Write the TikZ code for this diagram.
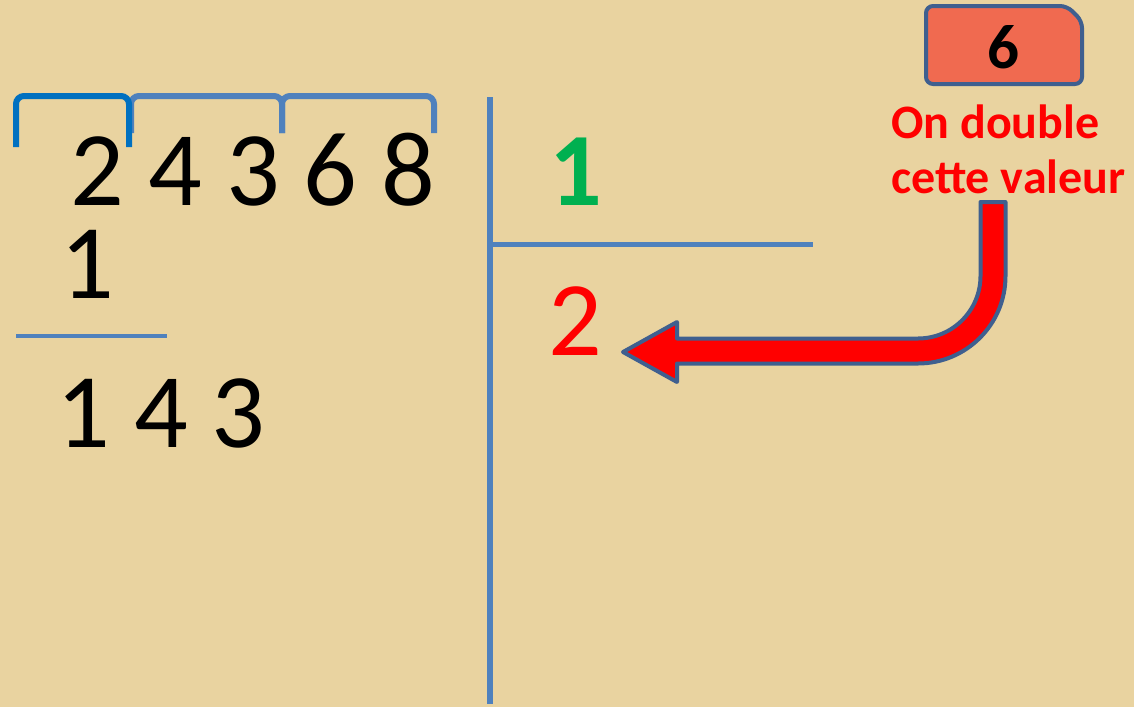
\documentclass[tikz,border=0pt]{standalone}
\usepackage{fontspec}
\setmainfont{Carlito}
\definecolor{parch}{RGB}{233,211,160}
\definecolor{bracketA}{RGB}{0,112,192}
\definecolor{bracketB}{RGB}{79,129,189}
\definecolor{ruleblue}{RGB}{79,129,189}
\definecolor{edgeblue}{RGB}{63,95,143}
\definecolor{boxfill}{RGB}{240,106,80}
\definecolor{mygreen}{RGB}{0,176,80}
\begin{document}
\begin{tikzpicture}[x=1pt,y=-1pt,
  digits/.style={inner sep=0pt,anchor=base,font=\fontsize{106}{106}\selectfont},
  bigbold/.style={inner sep=0pt,anchor=base,font=\bfseries\fontsize{104}{104}\selectfont},
  redlabel/.style={inner sep=0pt,anchor=base west,text=red,font=\bfseries\fontsize{48}{55}\selectfont},
  rule/.style={draw=ruleblue,line width=5pt},
  brack/.style={line width=6pt,rounded corners=8pt},
  arrowshape/.style={fill=red,draw=edgeblue,line width=4pt,line join=round}]
\fill[parch] (0,0) rectangle (1134,707);
\useasboundingbox (0,0) rectangle (1134,707);
% brackets
\draw[brack,draw=bracketB] (131,133) -- (131,96) -- (282,96) -- (282,133);
\draw[brack,draw=bracketB] (282,133) -- (282,96) -- (434,96) -- (434,133);
\draw[brack,draw=bracketA] (16,147) -- (16,96) -- (129,96) -- (129,147);
% dividend and working
\node[digits] (dividend) at (253,205) {2 4 3 6 8};
\node[digits] (sub) at (87,298) {1};
\node[digits] (rest) at (161,447) {1 4 3};
\coordinate (sl) at (16,336);
\coordinate (sr) at (167,336);
\draw[rule,line width=4.5pt] (sl) -- (sr);
% division rules
\coordinate (vt) at (490,97);
\coordinate (vb) at (490,704);
\coordinate (hl) at (490,244);
\coordinate (hr) at (813,244);
\draw[rule,line width=6pt] (vt) -- (vb);
\draw[rule] (hl) -- (hr);
% quotient digits
\node[bigbold,text=mygreen] (q1) at (576,205) {1};
\node[digits,text=red] (q2) at (575,355) {2};
% box with 6
\draw[fill=boxfill,draw=edgeblue,line width=4pt,rounded corners=7pt]
  (926,84) -- (926,6) -- (1067,6) -- (1082,21) -- (1082,84) -- cycle;
\node[inner sep=0pt,anchor=base,font=\bfseries\fontsize{63}{63}\selectfont] (six) at (1003,68) {6};
% label
\node[redlabel] (lab1) at (891,138) {On double};
\node[redlabel] (lab2) at (891,193) {cette valeur};
% curved arrow
\draw[arrowshape] (980.5,202) -- (1005.5,202) -- (1005.5,276)
  arc[start angle=0,end angle=90,radius=87.5] -- (677,363.5) -- (677,382)
  -- (623,352) -- (677,322) -- (677,338.5) -- (918,338.5)
  arc[start angle=90,end angle=0,radius=62.5] -- cycle;
\end{tikzpicture}
\end{document}
